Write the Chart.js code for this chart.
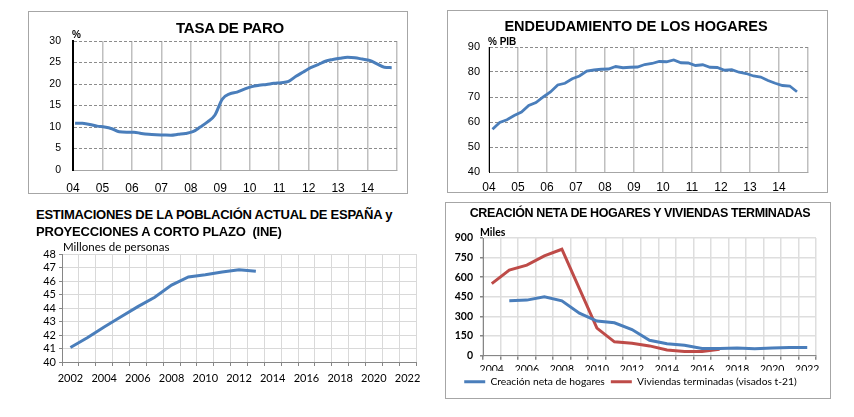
<!DOCTYPE html>
<html>
<head>
<meta charset="utf-8">
<script src="https://cdn.jsdelivr.net/npm/chart.js@4.4.1/dist/chart.umd.min.js"></script>
<style>
  body { margin: 0; background: #fff; width: 854px; height: 417px; position: relative; overflow: hidden; }
  .box { position: absolute; border: 1px solid #a6a6a6; box-sizing: border-box; }
  canvas { position: absolute; }
  .title { position: absolute; font-family: 'Liberation Sans', Arial, sans-serif; font-weight: bold; color: #000; white-space: nowrap; line-height: 1; }
  .unit { position: absolute; white-space: nowrap; color: #000; line-height: 1; }
</style>
</head>
<body>
<div class="box" style="left:28px;top:11px;width:380px;height:183px"></div>
<div class="box" style="left:447px;top:10px;width:381px;height:183px"></div>
<div class="box" style="left:445px;top:202px;width:386px;height:197px"></div>

<canvas id="c1" width="380" height="183" style="left:28px;top:11px"></canvas>
<canvas id="c2" width="381" height="183" style="left:447px;top:10px"></canvas>
<canvas id="c3" width="430" height="148" style="left:0px;top:240px"></canvas>
<canvas id="c4" width="386" height="197" style="left:445px;top:202px"></canvas>

<div class="title" style="left:110px;width:240px;text-align:center;top:20px;font-size:15px;letter-spacing:-0.2px">TASA DE PARO</div>
<div class="unit" style="left:72px;top:29px;font:bold 10px 'Liberation Sans', Arial, sans-serif">%</div>

<div class="title" style="left:500px;width:272px;text-align:center;top:19px;font-size:14.5px">ENDEUDAMIENTO DE LOS HOGARES</div>
<div class="unit" style="left:488px;top:36px;font:bold 10px 'Liberation Sans', Arial, sans-serif">% PIB</div>

<div class="title" style="left:36px;top:208px;font-size:13px;letter-spacing:-0.25px">ESTIMACIONES DE LA POBLACIÓN ACTUAL DE ESPAÑA y</div>
<div class="title" style="left:36px;top:225px;font-size:13px;letter-spacing:-0.2px">PROYECCIONES A CORTO PLAZO&nbsp; (INE)</div>
<div class="unit" style="left:63px;top:240px;font:11.5px Lato, sans-serif">Millones de personas</div>

<div class="title" style="left:440px;width:400px;text-align:center;top:207px;font-size:12.5px;letter-spacing:-0.4px">CREACIÓN NETA DE HOGARES Y VIVIENDAS TERMINADAS</div>
<div class="unit" style="left:480px;top:226px;font:bold 10.5px Lato, sans-serif">Miles</div>

<script>
// Tasa de paro (%), trimestral 2004T1 - 2014T4
const paroValues = [10.9, 10.85, 10.6, 10.2, 10.0, 9.6, 8.9, 8.8, 8.8, 8.5, 8.3, 8.2,
  8.15, 8.1, 8.3, 8.5, 8.9, 10.0, 11.2, 12.8, 16.5, 17.7, 18.1, 18.8,
  19.4, 19.7, 19.9, 20.15, 20.3, 20.6, 21.8, 22.8, 23.8, 24.5, 25.3, 25.7,
  26.0, 26.2, 26.1, 25.8, 25.5, 24.7, 23.9, 23.8];

// Endeudamiento de los hogares (% PIB), trimestral 2004T1 - 2014T3
const deudaValues = [57.1, 59.8, 60.9, 62.6, 64.0, 66.6, 67.8, 70.0, 72.0, 74.8, 75.5,
  77.3, 78.4, 80.4, 80.8, 81.1, 81.2, 82.2, 81.7, 81.9, 82.0, 83.0, 83.4,
  84.2, 84.1, 84.8, 83.7, 83.6, 82.6, 82.9, 81.9, 81.8, 80.7, 80.9, 79.9,
  79.4, 78.4, 78.0, 76.6, 75.5, 74.6, 74.4, 72.1];

const shortYears = ['04', '05', '06', '07', '08', '09', '10', '11', '12', '13', '14'];

// Poblacion (millones), 2002 - 2013; eje hasta 2022
const poblYears = ['2002', '2003', '2004', '2005', '2006', '2007', '2008', '2009', '2010', '2011', '2012',
  '2013', '2014', '2015', '2016', '2017', '2018', '2019', '2020', '2021', '2022'];
const poblValues = [41.07, 41.8, 42.6, 43.35, 44.1, 44.8, 45.7, 46.3, 46.47, 46.67, 46.84, 46.72];

// Hogares y viviendas (miles), 2004 - 2022
const hogYears = ['2004', '2005', '2006', '2007', '2008', '2009', '2010', '2011', '2012', '2013',
  '2014', '2015', '2016', '2017', '2018', '2019', '2020', '2021', '2022'];
const hogaresValues = [null, 420, 425, 450, 420, 325, 265, 252, 200, 118, 92, 80, 55, 55,
  58, 53, 58, 62, 62];
const viviendasValues = [551, 655, 693, 763, 814, 513, 211, 106, 95, 75, 44, 33, 33, 49];

const BLUE = '#4a7ebb';
const RED = '#be4b48';
const ARIAL = "'Liberation Sans', Arial, sans-serif";
const CALIBRI = "Lato, 'Open Sans', sans-serif";

const noPlugins = { legend: { display: false }, tooltip: { enabled: false } };

// TASA DE PARO
new Chart(document.getElementById('c1'), {
    type: 'line',
    data: {
        datasets: [{
            data: paroValues.map((v, i) => ({ x: 2004.07 + i / 4, y: v })),
            borderColor: BLUE,
            borderWidth: 3,
            pointRadius: 0,
            cubicInterpolationMode: 'monotone'
        }]
    },
    options: {
        responsive: false,
        animation: false,
        layout: { padding: { top: 30, right: 1, left: 0, bottom: 0 } },
        plugins: noPlugins,
        scales: {
            x: {
                type: 'linear', min: 2004, max: 2015,
                ticks: {
                    stepSize: 1, autoSkip: false, maxRotation: 0, padding: 11,
                    color: '#000', font: { family: ARIAL, size: 12 },
                    callback: v => shortYears[v - 2004] || ''
                },
                grid: { color: '#bfbfbf', lineWidth: 1.5, drawTicks: false },
                border: { color: '#a6a6a6', width: 1 },
                afterFit: s => { s.height = 24; }
            },
            y: {
                min: 0, max: 30,
                ticks: { stepSize: 5, autoSkip: false, padding: 12, color: '#000', font: { family: ARIAL, size: 10.5 } },
                grid: { color: '#8c8c8c', lineWidth: 1, drawTicks: false },
                border: { color: '#000', width: 2, dash: [3, 2] },
                afterFit: s => { s.width = 45; }
            }
        }
    }
});

// ENDEUDAMIENTO DE LOS HOGARES
new Chart(document.getElementById('c2'), {
    type: 'line',
    data: {
        datasets: [{
            data: deudaValues.map((v, i) => ({ x: 2004.12 + i / 4, y: v })),
            borderColor: BLUE,
            borderWidth: 2.8,
            pointRadius: 0,
            tension: 0
        }]
    },
    options: {
        responsive: false,
        animation: false,
        layout: { padding: { top: 37, right: 20, left: 0, bottom: 0 } },
        plugins: noPlugins,
        scales: {
            x: {
                type: 'linear', min: 2004, max: 2015,
                ticks: {
                    stepSize: 1, autoSkip: false, maxRotation: 0, padding: 8,
                    color: '#000', font: { family: ARIAL, size: 12 },
                    callback: v => shortYears[v - 2004] || ''
                },
                grid: { color: '#bfbfbf', lineWidth: 1.5, drawTicks: false },
                border: { color: '#a6a6a6', width: 1 },
                afterFit: s => { s.height = 21; }
            },
            y: {
                min: 40, max: 90,
                ticks: { stepSize: 10, autoSkip: false, padding: 9, color: '#000', font: { family: ARIAL, size: 11 } },
                grid: { color: '#8c8c8c', lineWidth: 1, drawTicks: false },
                border: { color: '#000', width: 1, dash: [3, 2] },
                afterFit: s => { s.width = 42; }
            }
        }
    }
});

// POBLACION
new Chart(document.getElementById('c3'), {
    type: 'line',
    data: {
        labels: poblYears,
        datasets: [{
            data: poblValues,
            borderColor: BLUE,
            borderWidth: 3,
            pointRadius: 0,
            tension: 0
        }]
    },
    options: {
        responsive: false,
        animation: false,
        layout: { padding: { top: 14, right: 14, left: 0, bottom: 0 } },
        plugins: noPlugins,
        scales: {
            x: {
                offset: true,
                ticks: {
                    autoSkip: false, maxRotation: 0, padding: 6,
                    color: '#000', font: { family: CALIBRI, size: 11 },
                    callback: (v, i) => i % 2 === 0 ? poblYears[i] : ''
                },
                grid: { offset: true, color: '#d9d9d9', lineWidth: 1, tickLength: 4, tickColor: '#868686' },
                border: { color: '#868686', width: 1 },
                afterFit: s => { s.height = 26; }
            },
            y: {
                min: 40, max: 48,
                ticks: { stepSize: 1, autoSkip: false, padding: 3, color: '#000', font: { family: CALIBRI, size: 11 } },
                grid: { color: '#d9d9d9', lineWidth: 1, tickLength: 3, tickColor: '#868686' },
                border: { color: '#868686', width: 1 },
                afterFit: s => { s.width = 62; }
            }
        }
    }
});

// CREACION NETA DE HOGARES Y VIVIENDAS TERMINADAS
new Chart(document.getElementById('c4'), {
    type: 'line',
    data: {
        labels: hogYears,
        datasets: [{
            label: 'Creación neta de hogares',
            data: hogaresValues,
            borderColor: BLUE,
            backgroundColor: BLUE,
            borderWidth: 3,
            pointRadius: 0,
            tension: 0
        }, {
            label: 'Viviendas terminadas (visados t-21)',
            data: viviendasValues,
            borderColor: RED,
            backgroundColor: RED,
            borderWidth: 3,
            pointRadius: 0,
            tension: 0
        }]
    },
    options: {
        responsive: false,
        animation: false,
        layout: { padding: { top: 36, right: 15, left: 0, bottom: 2 } },
        plugins: {
            tooltip: { enabled: false },
            legend: {
                position: 'bottom',
                labels: {
                    boxWidth: 21, boxHeight: 3, padding: 6,
                    color: '#000', font: { family: CALIBRI, size: 10.3 },
                    generateLabels: chart => Chart.defaults.plugins.legend.labels.generateLabels(chart)
                        .map(l => Object.assign(l, { lineWidth: 0 }))
                }
            }
        },
        scales: {
            x: {
                offset: true,
                ticks: {
                    autoSkip: false, maxRotation: 0, padding: 4,
                    color: '#000', font: { family: CALIBRI, size: 10.5 },
                    callback: (v, i) => i % 2 === 0 ? hogYears[i] : ''
                },
                grid: { offset: true, color: '#dedede', lineWidth: 1.5, tickLength: 4, tickColor: '#868686' },
                border: { color: '#868686', width: 1 },
                afterFit: s => { s.height = 15; }
            },
            y: {
                min: 0, max: 900,
                ticks: { stepSize: 150, autoSkip: false, padding: 7, color: '#000', font: { family: CALIBRI, size: 10.5, weight: 'bold' } },
                grid: { color: '#dedede', lineWidth: 1.5, tickLength: 3, tickColor: '#868686' },
                border: { color: '#868686', width: 1 },
                afterFit: s => { s.width = 38; }
            }
        }
    }
});
</script>
</body>
</html>
